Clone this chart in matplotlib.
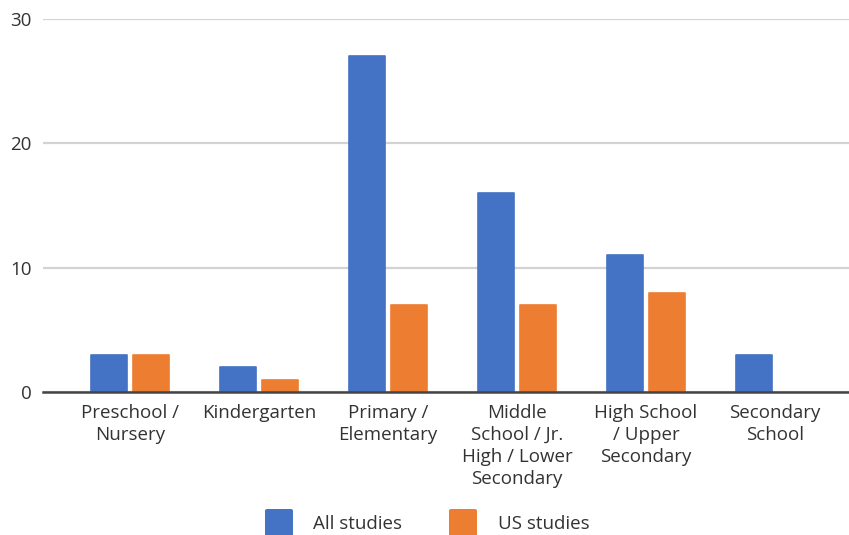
import matplotlib
matplotlib.use("Agg")
import matplotlib.pyplot as plt
from matplotlib.patches import FancyBboxPatch
import numpy as np

categories = ["Preschool /\nNursery", "Kindergarten", "Primary /\nElementary",
              "Middle\nSchool / Jr.\nHigh / Lower\nSecondary",
              "High School\n/ Upper\nSecondary", "Secondary\nSchool"]
all_studies = [3, 2, 27, 16, 11, 3]
us_studies = [3, 1, 7, 7, 8, 0]
series_names = ["All studies", "US studies"]
yticks = [0, 10, 20, 30]

BLUE = "#4472C4"
ORANGE = "#ED7D31"
TEXT = "#333333"
FS = 13.5

plt.rcParams["font.family"] = ["Open Sans", "DejaVu Sans"]

W, H = 849, 535
fig = plt.figure(figsize=(W / 100, H / 100), dpi=100)
ax = fig.add_axes([43 / W, (H - 392) / H, 806 / W, 373 / H])

x = np.arange(len(categories))
width = 0.28
off = 0.161
for xs, vals, col in ((x - off, all_studies, BLUE), (x + off, us_studies, ORANGE)):
    bars = ax.bar(xs, vals, width=width, color=col, edgecolor=col,
                  linewidth=1.2, zorder=3)
    for b in bars:
        b.set_joinstyle("round")
        if b.get_height() == 0:
            b.set_visible(False)

ax.set_xlim((43 - 130) / 129, (849 - 130) / 129)
ax.set_ylim(0, 30)
ax.set_yticks(yticks)
ax.set_xticks(x)
ax.set_xticklabels(categories, linespacing=1.27)
ax.tick_params(axis="both", length=0, labelsize=FS, colors=TEXT)
ax.tick_params(axis="y", pad=8)
ax.tick_params(axis="x", pad=9)
ax.yaxis.grid(True, color="#d3d3d3", linewidth=1.6, zorder=0)
ax.set_axisbelow(True)
for s in ["top", "right", "left"]:
    ax.spines[s].set_visible(False)
ax.spines["bottom"].set_color("#444444")
ax.spines["bottom"].set_linewidth(1.8)
ax.spines["bottom"].set_zorder(4)

# legend swatches and labels along the bottom edge
for (x0, tx), name, col in zip(((265, 313), (449, 498)), series_names, (BLUE, ORANGE)):
    sw = FancyBboxPatch((x0 / W, (H - 537) / H), 28 / W, 28 / H,
                        boxstyle="round,pad=0,rounding_size=0.003",
                        transform=fig.transFigure, facecolor=col,
                        edgecolor="none")
    fig.patches.append(sw)
    fig.text(tx / W, (H - 524) / H, name, fontsize=FS, color=TEXT,
             va="center", ha="left")

fig.savefig("out.png", dpi=100, facecolor="white")
